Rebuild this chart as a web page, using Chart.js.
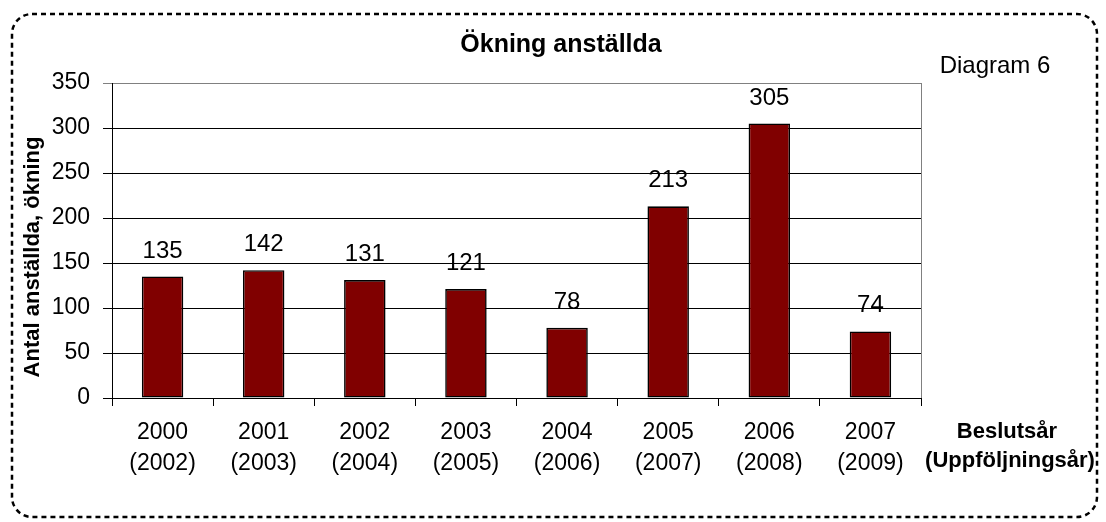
<!DOCTYPE html>
<html>
<head>
<meta charset="utf-8">
<script src="https://cdn.jsdelivr.net/npm/chart.js@4"></script>
<style>
  html, body { margin: 0; padding: 0; background: #fff; }
  canvas { display: block; }
</style>
</head>
<body>
<canvas id="c" width="1106" height="522" style="width:1106px;height:522px"></canvas>
<script>
const decisionYears = ['2000', '2001', '2002', '2003', '2004', '2005', '2006', '2007'];
const followUpYears = ['(2002)', '(2003)', '(2004)', '(2005)', '(2006)', '(2007)', '(2008)', '(2009)'];
const increase = [135, 142, 131, 121, 78, 213, 305, 74];
const yTicks = [0, 50, 100, 150, 200, 250, 300, 350];

const chartTitle = 'Ökning anställda';
const yTitle = 'Antal anställda, ökning';
const xTitle = ['Beslutsår', '(Uppföljningsår)'];
const cornerNote = 'Diagram 6';

const FONT = '"Liberation Sans", Arial, sans-serif';

const labels = decisionYears.map((y, i) => [y, followUpYears[i]]);

const decorPlugin = {
  id: 'decor',
  beforeDraw(chart) {
    const ctx = chart.ctx;
    ctx.save();
    ctx.fillStyle = '#fff';
    ctx.fillRect(0, 0, chart.width, chart.height);
    ctx.strokeStyle = '#000';
    ctx.lineWidth = 2.5;
    ctx.setLineDash([5, 4]);
    const x0 = 12, y0 = 14, x1 = 1097, y1 = 517, r = 20;
    ctx.beginPath();
    ctx.moveTo(x0 + r, y0);
    ctx.lineTo(x1 - r, y0);
    ctx.arcTo(x1, y0, x1, y0 + r, r);
    ctx.lineTo(x1, y1 - r);
    ctx.arcTo(x1, y1, x1 - r, y1, r);
    ctx.lineTo(x0 + r, y1);
    ctx.arcTo(x0, y1, x0, y1 - r, r);
    ctx.lineTo(x0, y0 + r);
    ctx.arcTo(x0, y0, x0 + r, y0, r);
    ctx.closePath();
    ctx.stroke();
    ctx.restore();
  },
  afterDraw(chart) {
    const ctx = chart.ctx;
    const a = chart.chartArea;
    ctx.save();
    ctx.strokeStyle = '#808080';
    ctx.lineWidth = 1;
    ctx.beginPath();
    ctx.moveTo(a.right + 0.5, a.top);
    ctx.lineTo(a.right + 0.5, a.bottom);
    ctx.stroke();

    ctx.fillStyle = '#000';
    ctx.font = 'bold 25px ' + FONT;
    ctx.textAlign = 'center';
    ctx.textBaseline = 'middle';
    ctx.fillText(chartTitle, 561, 45);
    ctx.font = '24px ' + FONT;
    ctx.fillText(cornerNote, 995, 66);
    ctx.font = 'bold 22px ' + FONT;
    ctx.fillText(xTitle[0], 1007, 432);
    ctx.fillText(xTitle[1], 1010, 461);
    ctx.save();
    ctx.translate(33, 257);
    ctx.rotate(-Math.PI / 2);
    ctx.font = 'bold 22px ' + FONT;
    ctx.fillText(yTitle, 0, 0);
    ctx.restore();

    ctx.font = '24px ' + FONT;
    ctx.textBaseline = 'alphabetic';
    const meta = chart.getDatasetMeta(0);
    meta.data.forEach((bar, i) => {
      ctx.fillText(String(increase[i]), bar.x, bar.y - 19);
    });
    ctx.restore();
  }
};

new Chart(document.getElementById('c'), {
  type: 'bar',
  data: {
    labels: labels,
    datasets: [{
      data: increase,
      backgroundColor: '#800000',
      borderColor: '#000',
      borderWidth: 1.6,
      borderSkipped: false,
      categoryPercentage: 1,
      barPercentage: 0.41
    }]
  },
  options: {
    responsive: false,
    animation: false,
    devicePixelRatio: 1,
    layout: { padding: { left: 0, top: 83, right: 185, bottom: 0 } },
    plugins: { legend: { display: false }, tooltip: { enabled: false }, title: { display: false } },
    scales: {
      x: {
        offset: true,
        afterFit(scale) { scale.height = 124; },
        grid: { offset: true, drawOnChartArea: false, tickLength: 8, color: '#000', lineWidth: 1 },
        border: { display: true, color: '#000', width: 1 },
        ticks: {
          color: '#000',
          font: { family: FONT, size: 23, lineHeight: 1.35 },
          padding: 11,
          maxRotation: 0,
          autoSkip: false
        }
      },
      y: {
        min: 0,
        max: 350,
        afterFit(scale) { scale.width = 112; },
        afterBuildTicks(scale) { scale.ticks = yTicks.map(v => ({ value: v })); },
        grid: {
          color: ctx => (ctx.tick && ctx.tick.value === 350 ? '#808080' : '#000'),
          lineWidth: 1,
          tickLength: 9
        },
        border: { display: true, color: '#000', width: 1 },
        ticks: {
          color: '#000',
          font: { family: FONT, size: 23 },
          padding: 13
        }
      }
    }
  },
  plugins: [decorPlugin]
});
</script>
</body>
</html>
